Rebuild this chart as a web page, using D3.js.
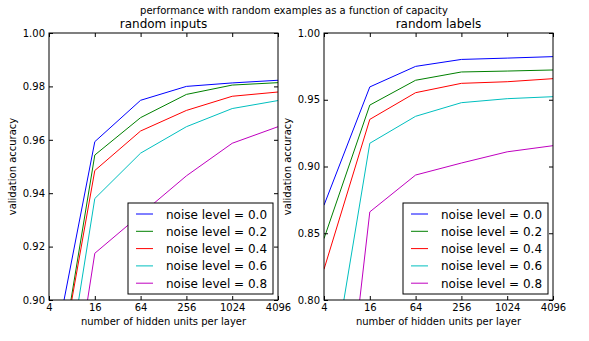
<!DOCTYPE html>
<html><head><meta charset="utf-8">
<script src="https://cdn.jsdelivr.net/npm/d3@7"></script>
<style>body{margin:0;background:#fff}svg{display:block;font-family:"DejaVu Sans",sans-serif}</style>
</head><body><svg id="c" width="589" height="341"></svg>
<script>
const units = [4, 16, 64, 256, 1024, 4096];
const xTicks = [4, 16, 64, 256, 1024, 4096];
const noiseLabels = ["noise level = 0.0","noise level = 0.2","noise level = 0.4","noise level = 0.6","noise level = 0.8"];
const colors = ["#0000ff","#008000","#ff0000","#00bfbf","#bf00bf"];
// random inputs
const inputs00 = [0.871, 0.9593, 0.9748, 0.9800, 0.9813, 0.9823];
const inputs02 = [0.850, 0.9543, 0.9683, 0.9770, 0.9805, 0.9814];
const inputs04 = [0.852, 0.9485, 0.9633, 0.9710, 0.9763, 0.9779];
const inputs06 = [0.830, 0.9380, 0.9550, 0.9649, 0.9717, 0.9747];
const inputs08 = [0.807, 0.9175, 0.9320, 0.9465, 0.9587, 0.9649];
// random labels
const labels00 = [0.871, 0.9596, 0.9750, 0.9802, 0.9812, 0.9823];
const labels02 = [0.846, 0.9460, 0.9646, 0.9708, 0.9715, 0.9723];
const labels04 = [0.823, 0.9353, 0.9553, 0.9623, 0.9635, 0.9658];
const labels06 = [0.710, 0.9174, 0.9376, 0.9478, 0.9508, 0.9523];
const labels08 = [0.566, 0.8660, 0.8936, 0.9026, 0.9110, 0.9156];
const yTicksInputs = [0.90, 0.92, 0.94, 0.96, 0.98, 1.00];
const yTicksLabels = [0.80, 0.85, 0.90, 0.95, 1.00];

const svg = d3.select("#c");
svg.append("text").attr("x",294).attr("y",14).attr("text-anchor","middle").attr("font-size",10).text("performance with random examples as a function of capacity");

function panel(id, x0, x1, title, series, yDomain, yTicks){
  const top=33, bottom=300;
  const x = d3.scaleLog().base(2).domain([4,4096]).range([x0,x1]);
  const y = d3.scaleLinear().domain(yDomain).range([bottom,top]);
  const g = svg.append("g");
  g.append("clipPath").attr("id",id).append("rect").attr("x",x0).attr("y",top).attr("width",x1-x0).attr("height",bottom-top);
  const line = d3.line().x((d,i)=>x(units[i])).y(d=>y(d));
  series.forEach((s,k)=>{
    g.append("path").attr("d",line(s)).attr("fill","none").attr("stroke",colors[k]).attr("stroke-width",1).attr("clip-path",`url(#${id})`);
  });
  const fmt = d3.format(".2f");
  const ax = (gen, tr) => g.append("g").attr("transform",tr).call(gen).call(a=>{a.select(".domain").remove(); a.selectAll("text").attr("font-family","DejaVu Sans").attr("font-size",10).attr("fill","#000"); a.selectAll("line").attr("stroke","#000");});
  ax(d3.axisBottom(x).tickValues(xTicks).tickFormat(d3.format("d")).tickSizeInner(-4).tickPadding(4), `translate(0,${bottom})`);
  ax(d3.axisTop(x).tickValues(xTicks).tickFormat("").tickSizeInner(-4), `translate(0,${top})`);
  ax(d3.axisLeft(y).tickValues(yTicks).tickFormat(fmt).tickSizeInner(-4).tickPadding(4), `translate(${x0},0)`);
  ax(d3.axisRight(y).tickValues(yTicks).tickFormat("").tickSizeInner(-4), `translate(${x1},0)`);
  g.append("rect").attr("x",x0).attr("y",top).attr("width",x1-x0).attr("height",bottom-top).attr("fill","none").attr("stroke","#000").attr("stroke-width",1);
  g.append("text").attr("x",(x0+x1)/2).attr("y",28).attr("text-anchor","middle").attr("font-size",12).text(title);
  g.append("text").attr("x",(x0+x1)/2).attr("y",325).attr("text-anchor","middle").attr("font-size",10).text("number of hidden units per layer");
  g.append("text").attr("transform",`translate(${x0-33},${(top+bottom)/2}) rotate(-90)`).attr("text-anchor","middle").attr("font-size",10).text("validation accuracy");
  // legend
  const lx = x1-150, ly = 203;
  const lg = g.append("g");
  lg.append("rect").attr("x",lx).attr("y",ly).attr("width",145).attr("height",91).attr("fill","#fff").attr("stroke","#000").attr("stroke-width",1);
  noiseLabels.forEach((t,k)=>{
    const yy = ly+11+k*17.3;
    lg.append("line").attr("x1",lx+8).attr("x2",lx+25).attr("y1",yy).attr("y2",yy).attr("stroke",colors[k]);
    lg.append("text").attr("x",lx+38).attr("y",yy+4.5).attr("font-size",12).text(t);
  });
}
panel("clipA",49,278,"random inputs",[inputs00,inputs02,inputs04,inputs06,inputs08],[0.90,1.00],yTicksInputs);
panel("clipB",324,553,"random labels",[labels00,labels02,labels04,labels06,labels08],[0.80,1.00],yTicksLabels);
</script></body></html>
